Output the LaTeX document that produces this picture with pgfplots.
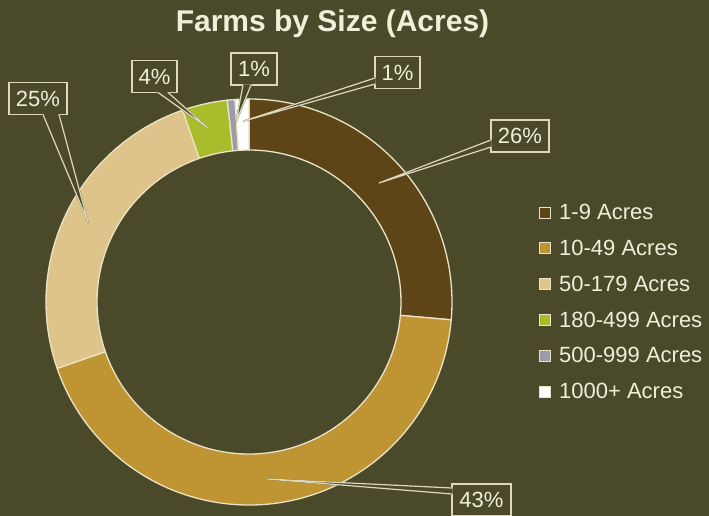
\documentclass[border=0pt]{standalone}
\usepackage{pgfplots}
\pgfplotsset{compat=1.18}
\usepackage{fontspec}
\setmainfont{Liberation Sans}
\definecolor{bg}{HTML}{4A4A2B}
\definecolor{cA}{HTML}{5E4518}
\definecolor{cB}{HTML}{BF9432}
\definecolor{cC}{HTML}{DEC48A}
\definecolor{cD}{HTML}{A9BC2C}
\definecolor{cE}{HTML}{9C9CA8}
\definecolor{cF}{HTML}{FFFFFF}
\definecolor{edge}{HTML}{EAE3C5}
\definecolor{txt}{HTML}{F1EEDA}
\definecolor{callout}{HTML}{DCD8BC}
\newcommand\lbl{\fontsize{22bp}{26bp}\selectfont}
\newcommand\cx{249}
\newcommand\cy{214}
\newcommand\ro{203}
\newcommand\ri{152}
% #1 centre, #2 width, #3 text, #4 base point 1, #5 base point 2, #6 tip
\newcommand\callout[6]{%
  \node[draw=callout, fill=bg, line width=1.2bp, minimum width=#2bp, minimum height=32bp,
        inner sep=0pt, text=txt, font=\lbl] at (axis cs:#1) {#3};
  \filldraw[bg, line width=1.3bp, line join=round] (axis cs:#4) -- (axis cs:#6) -- (axis cs:#5) -- cycle;
  \draw[callout, line width=1.2bp, line join=round, line cap=round] (axis cs:#4) -- (axis cs:#6) -- (axis cs:#5);
}
\begin{document}
\begin{tikzpicture}
\begin{axis}[
  x=1bp, y=1bp, xmin=0, xmax=709, ymin=0, ymax=516,
  hide axis, clip=false,
  legend style={at={(axis cs:539,314)}, anchor=north west, draw=none, fill=none,
    text=txt, font=\lbl, inner sep=0pt, row sep=15bp, cells={anchor=west},
    /tikz/every odd column/.append style={column sep=6bp}},
  legend image code/.code={\filldraw[#1, draw=edge, line width=1bp] (0bp,-5.5bp) rectangle (11bp,5.5bp);},
]
\fill[bg] (axis cs:0,0) rectangle (axis cs:709,516);
\xdef\sa{90}
\foreach \v/\c in {26.4/cA,43.3/cB,25.0/cC,3.6/cD,0.6/cE,1.1/cF}{%
  \pgfmathsetmacro\ea{\sa-3.6*\v}%
  \edef\temp{\noexpand\filldraw[fill=\c, draw=edge, line width=1.3bp, line join=round]
    (axis cs:{\cx+\ro*cos(\sa)},{\cy+\ro*sin(\sa)}) arc[start angle=\sa, end angle=\ea, radius=\ro bp]
    -- (axis cs:{\cx+\ri*cos(\ea)},{\cy+\ri*sin(\ea)}) arc[start angle=\ea, end angle=\sa, radius=\ri bp] -- cycle;}%
  \temp
  \xdef\sa{\ea}%
}
\callout{520,380}{58}{26\%}{491,376}{491,369}{379,333}
\callout{481.5,16}{59}{43\%}{452,28}{452,22}{267,37}
\callout{38,417.5}{58}{25\%}{43,401.5}{59,401.5}{88,294}
\callout{154.5,439.5}{45}{4\%}{158,423.5}{168,423.5}{208,388}
\callout{254,447}{46}{1\%}{243,431}{251,431}{236,394}
\callout{397.5,443.5}{45}{1\%}{375,438}{375,432}{244,395}
\node[font=\fontsize{30bp}{36bp}\selectfont\bfseries, text=txt, anchor=base] at (axis cs:332.5,484) {Farms by Size (Acres)};
\addlegendimage{fill=cA}\addlegendentry{1-9 Acres}
\addlegendimage{fill=cB}\addlegendentry{10-49 Acres}
\addlegendimage{fill=cC}\addlegendentry{50-179 Acres}
\addlegendimage{fill=cD}\addlegendentry{180-499 Acres}
\addlegendimage{fill=cE}\addlegendentry{500-999 Acres}
\addlegendimage{fill=cF}\addlegendentry{1000+ Acres}
\end{axis}
\pgfresetboundingbox
\path (0,0) rectangle (709bp,516bp);
\end{tikzpicture}
\end{document}
